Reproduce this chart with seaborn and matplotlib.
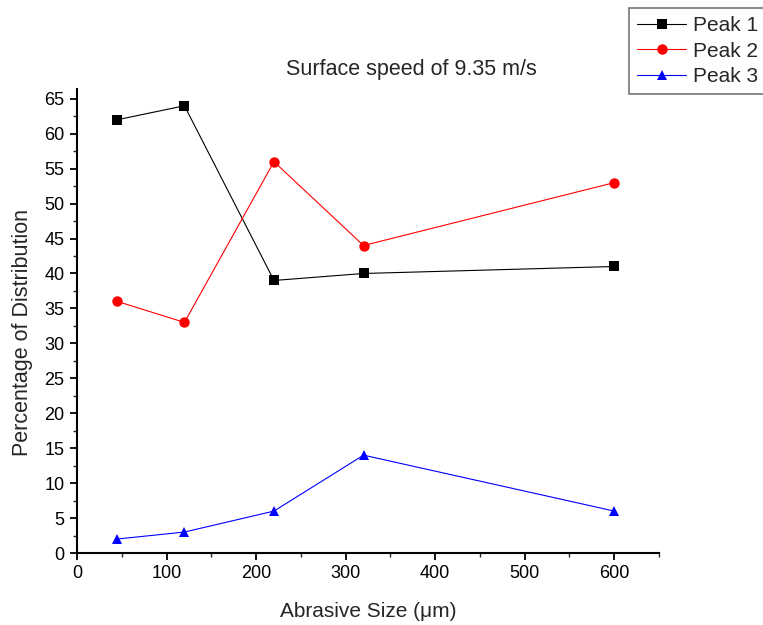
import matplotlib
matplotlib.use("Agg")
import matplotlib.pyplot as plt
import seaborn as sns
import pandas as pd
from matplotlib.ticker import MultipleLocator
from matplotlib.lines import Line2D

abrasive_size = [45, 120, 220, 320, 600]
peak1 = [62, 64, 39, 40, 41]
peak2 = [36, 33, 56, 44, 53]
peak3 = [2, 3, 6, 14, 6]
series_names = ["Peak 1", "Peak 2", "Peak 3"]
colors = ["black", "red", "blue"]
markers = ["s", "o", "^"]

rows = []
for name, vals in zip(series_names, [peak1, peak2, peak3]):
    for x, y in zip(abrasive_size, vals):
        rows.append({"size": x, "value": y, "series": name})
df = pd.DataFrame(rows)

sns.set_style("ticks")
plt.rcParams['font.family'] = ['Liberation Sans', 'DejaVu Sans']

fig = plt.figure(figsize=(7.63, 6.25), dpi=100)
ax = fig.add_axes([77/763, 1-553/625, (659-77)/763, (553-89)/625])

sns.lineplot(data=df, x="size", y="value", hue="series", style="series",
             palette=dict(zip(series_names, colors)),
             markers=dict(zip(series_names, markers)),
             dashes=False, markersize=7.5, linewidth=0.8, markeredgewidth=0,
             ax=ax, legend=False)

ax.set_xlim(0, 650)
ax.set_ylim(0, 66.4)
ax.xaxis.set_major_locator(MultipleLocator(100))
ax.xaxis.set_minor_locator(MultipleLocator(50))
ax.yaxis.set_major_locator(MultipleLocator(5))
ax.yaxis.set_minor_locator(MultipleLocator(2.5))
ax.tick_params(which="major", direction="out", length=5, width=1.3, labelsize=13,
               colors="black", pad=4)
ax.tick_params(which="minor", direction="out", length=3, width=1.0)
for s in ["top", "right"]:
    ax.spines[s].set_visible(False)
for s in ["left", "bottom"]:
    ax.spines[s].set_linewidth(1.5)
    ax.spines[s].set_color("black")

ax.set_xlabel("Abrasive Size (\u03bcm)", fontsize=15, labelpad=14)
ax.set_ylabel("Percentage of Distribution", fontsize=15.5)
ax.yaxis.set_label_coords(-(77-33)/582, (553-332)/464)

fig.text(411/763, 1-70/625, "Surface speed of 9.35 m/s", ha="center", va="center", fontsize=15.5)

handles = [Line2D([0], [0], color=c, marker=m, markersize=7.5, linewidth=0.8, markeredgewidth=0)
           for c, m in zip(colors, markers)]
leg = fig.legend(handles, series_names, loc="upper left",
                 bbox_to_anchor=(629/763, 1-8/625), fontsize=15,
                 frameon=True, fancybox=False, handlelength=2.35,
                 handletextpad=0.3, labelspacing=0.3, borderpad=0.4, borderaxespad=0)
leg.get_frame().set_edgecolor("#555555")
leg.get_frame().set_linewidth(1.2)

fig.savefig("out.png", dpi=100)
